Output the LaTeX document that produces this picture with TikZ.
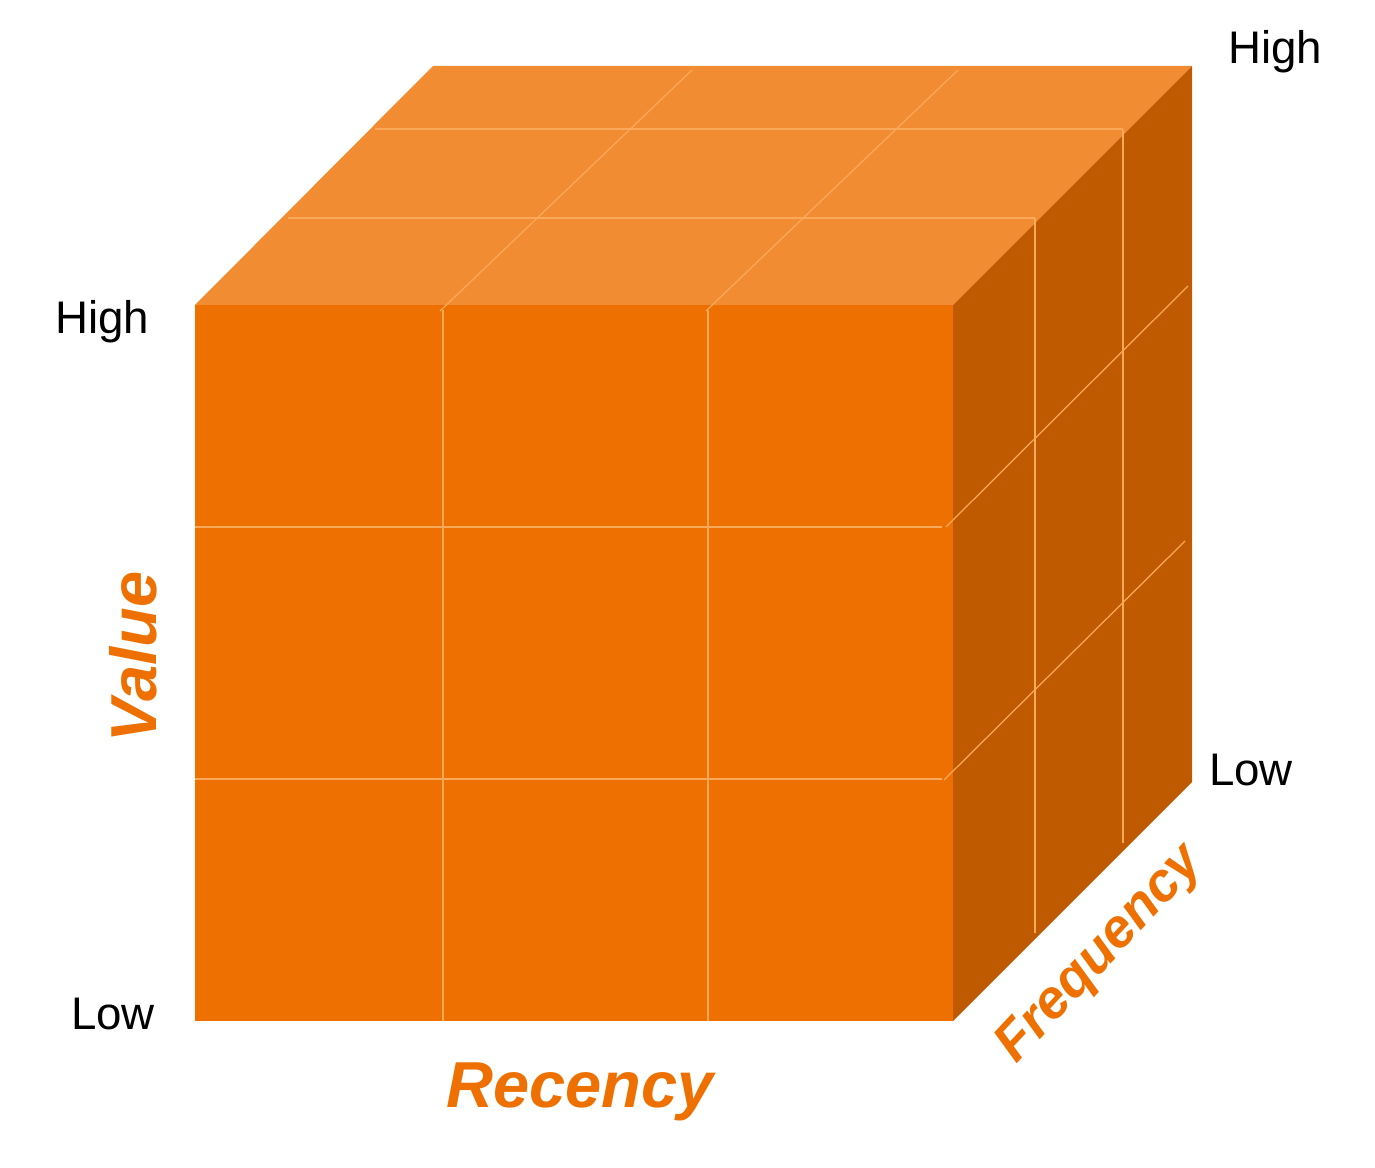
\documentclass[tikz,border=0pt]{standalone}
\usepackage{fontspec}
\setmainfont{Liberation Sans}
\usepackage{tikz}

\definecolor{frontorange}{RGB}{237,112,0}
\definecolor{toporange}{RGB}{241,140,51}
\definecolor{sideorange}{RGB}{192,90,0}
\definecolor{gridorange}{RGB}{250,168,90}

\begin{document}
\begin{tikzpicture}[x=0.02cm, y=-0.02cm]
        % Define the styles for faces, grid and labels
        \tikzstyle{gridline}=[gridorange, line width=0.7pt]
        \tikzstyle{levellabel}=[font=\fontsize{26}{30}\selectfont, inner sep=0pt]
        \tikzstyle{axislabel}=[text=frontorange, font=\fontsize{37}{42}\selectfont\bfseries\itshape, inner sep=0pt]

        \useasboundingbox (0,0) rectangle (1375,1168);

        % Define the corners of the cube
        \coordinate (fl) at (195,305);
        \coordinate (fr) at (953,305);
        \coordinate (bl) at (195,1021);
        \coordinate (br) at (953,1021);
        \coordinate (tl) at (433,66);
        \coordinate (tr) at (1192,66);
        \coordinate (sr) at (1192,782);

        % Define the faces
        \fill[frontorange] (fl) rectangle (br);
        \fill[toporange] (fl) -- (tl) -- (tr) -- (fr) -- cycle;
        \fill[sideorange] (fr) -- (tr) -- (sr) -- (br) -- cycle;

        % Define the grid on the front face
        \draw[gridline] (443,310) -- (443,1021);
        \draw[gridline] (708,310) -- (708,1021);
        \draw[gridline] (195,527) -- (942,527);
        \draw[gridline] (195,779) -- (942,779);

        % Define the grid on the top face
        \draw[gridline] (375,129) -- (1123,129);
        \draw[gridline] (288,218) -- (1035,218);
        \draw[gridline] (440,311) -- (692,70);
        \draw[gridline] (706,311) -- (958,70);

        % Define the grid on the side face
        \draw[gridline] (1123,129) -- (1123,843);
        \draw[gridline] (1035,218) -- (1035,933);
        \draw[gridline] (946,527) -- (1188,286);
        \draw[gridline] (944,780) -- (1185,541);

        % Define the level labels
        \node[levellabel] (valhigh) at (102,322) {High};
        \node[levellabel] (vallow) at (113,1014) {Low};
        \node[levellabel] (freqhigh) at (1275,52) {High};
        \node[levellabel] (freqlow) at (1251,770) {Low};

        % Define the axis labels
        \node[axislabel] (recency) at (580,1092) {Recency};
        \node[axislabel, rotate=90] (value) at (133,657) {Value};
        \node[axislabel, rotate=47, font=\fontsize{31}{36}\selectfont\bfseries\itshape] (frequency) at (1101,955) {Frequency};
    \end{tikzpicture}
\end{document}
